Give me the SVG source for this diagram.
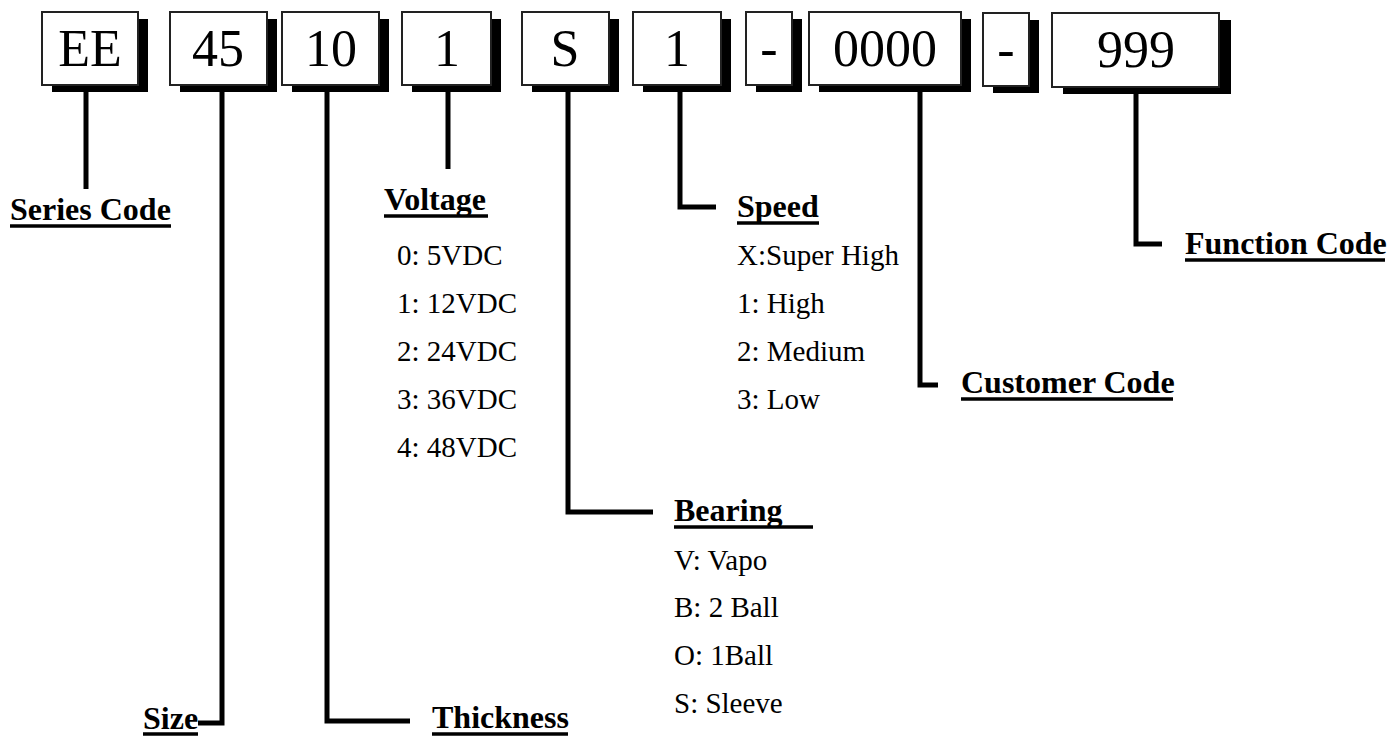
<svg xmlns="http://www.w3.org/2000/svg" width="1391" height="749" viewBox="0 0 1391 749">
<style>
.box{fill:#fff;stroke:#222;stroke-width:2}
.sh{fill:#000}
.bt{font-family:"Liberation Serif","Times New Roman",serif;font-size:52px;text-anchor:middle;fill:#000}
.lb{font-family:"Liberation Serif","Times New Roman",serif;font-size:32px;font-weight:bold;fill:#000}
.it{font-family:"Liberation Serif","Times New Roman",serif;font-size:29px;fill:#000}
.ul{stroke:#000;stroke-width:3.5}
.cn{fill:none;stroke:#000;stroke-width:5;stroke-linejoin:miter}
</style>
<rect width="1391" height="749" fill="#fff"/>
<g id="connectors">
<path class="cn" d="M86 90V189"/>
<path class="cn" d="M222 90V723H198"/>
<path class="cn" d="M327 90V721H410"/>
<path class="cn" d="M448 90V169"/>
<path class="cn" d="M568 90V512H653"/>
<path class="cn" d="M680 90V207H716"/>
<path class="cn" d="M920 90V385H938"/>
<path class="cn" d="M1136 92V244H1162"/>
</g>
<g id="box-ee"><rect class="sh" x="52" y="19" width="96" height="73"/><rect class="box" x="42" y="12" width="96" height="73"/><text class="bt" x="90" y="66">EE</text></g>
<g id="box-45"><rect class="sh" x="180" y="19" width="97" height="73"/><rect class="box" x="170" y="12" width="97" height="73"/><text class="bt" x="218" y="66">45</text></g>
<g id="box-10"><rect class="sh" x="292" y="19" width="97" height="73"/><rect class="box" x="282" y="12" width="97" height="73"/><text class="bt" x="331" y="66">10</text></g>
<g id="box-1a"><rect class="sh" x="412" y="19" width="89" height="73"/><rect class="box" x="402" y="12" width="89" height="73"/><text class="bt" x="447" y="66">1</text></g>
<g id="box-s"><rect class="sh" x="532" y="19" width="87" height="73"/><rect class="box" x="522" y="12" width="87" height="73"/><text class="bt" x="565" y="66">S</text></g>
<g id="box-1b"><rect class="sh" x="643" y="19" width="88" height="73"/><rect class="box" x="633" y="12" width="88" height="73"/><text class="bt" x="677" y="66">1</text></g>
<g id="box-dash1"><rect class="sh" x="756" y="19" width="46" height="73"/><rect class="box" x="746" y="12" width="46" height="73"/><text class="bt" x="769" y="66">-</text></g>
<g id="box-0000"><rect class="sh" x="819" y="19" width="152" height="73"/><rect class="box" x="809" y="12" width="152" height="73"/><text class="bt" x="885" y="66">0000</text></g>
<g id="box-dash2"><rect class="sh" x="993" y="20" width="46" height="73"/><rect class="box" x="983" y="13" width="46" height="73"/><text class="bt" x="1006" y="67">-</text></g>
<g id="box-999"><rect class="sh" x="1063" y="20" width="168" height="74"/><rect class="box" x="1052" y="13" width="167" height="74"/><text class="bt" x="1136" y="67">999</text></g>
<g id="series-code"><text class="lb" x="10" y="220">Series Code</text><line class="ul" x1="10" y1="226" x2="171" y2="226"/></g>
<g id="size"><text class="lb" x="143" y="729">Size</text><line class="ul" x1="143" y1="734" x2="198" y2="734"/></g>
<g id="thickness"><text class="lb" x="432" y="728">Thickness</text><line class="ul" x1="432" y1="734" x2="568" y2="734"/></g>
<g id="voltage"><text class="lb" x="384" y="210">Voltage</text><line class="ul" x1="384" y1="216" x2="488" y2="216"/>
<text class="it" x="397" y="265">0: 5VDC</text>
<text class="it" x="397" y="313">1: 12VDC</text>
<text class="it" x="397" y="361">2: 24VDC</text>
<text class="it" x="397" y="409">3: 36VDC</text>
<text class="it" x="397" y="457">4: 48VDC</text></g>
<g id="speed"><text class="lb" x="737" y="217">Speed</text><line class="ul" x1="737" y1="223" x2="819" y2="223"/>
<text class="it" x="737" y="265">X:Super High</text>
<text class="it" x="737" y="313">1: High</text>
<text class="it" x="737" y="361">2: Medium</text>
<text class="it" x="737" y="409">3: Low</text></g>
<g id="bearing"><text class="lb" x="674" y="521">Bearing</text><line class="ul" x1="674" y1="527" x2="813" y2="527"/>
<text class="it" x="674" y="570">V: Vapo</text>
<text class="it" x="674" y="617">B: 2 Ball</text>
<text class="it" x="674" y="665">O: 1Ball</text>
<text class="it" x="674" y="713">S: Sleeve</text></g>
<g id="customer-code"><text class="lb" x="961" y="393">Customer Code</text><line class="ul" x1="961" y1="399" x2="1173" y2="399"/></g>
<g id="function-code"><text class="lb" x="1185" y="254">Function Code</text><line class="ul" x1="1185" y1="260" x2="1385" y2="260"/></g>
</svg>
